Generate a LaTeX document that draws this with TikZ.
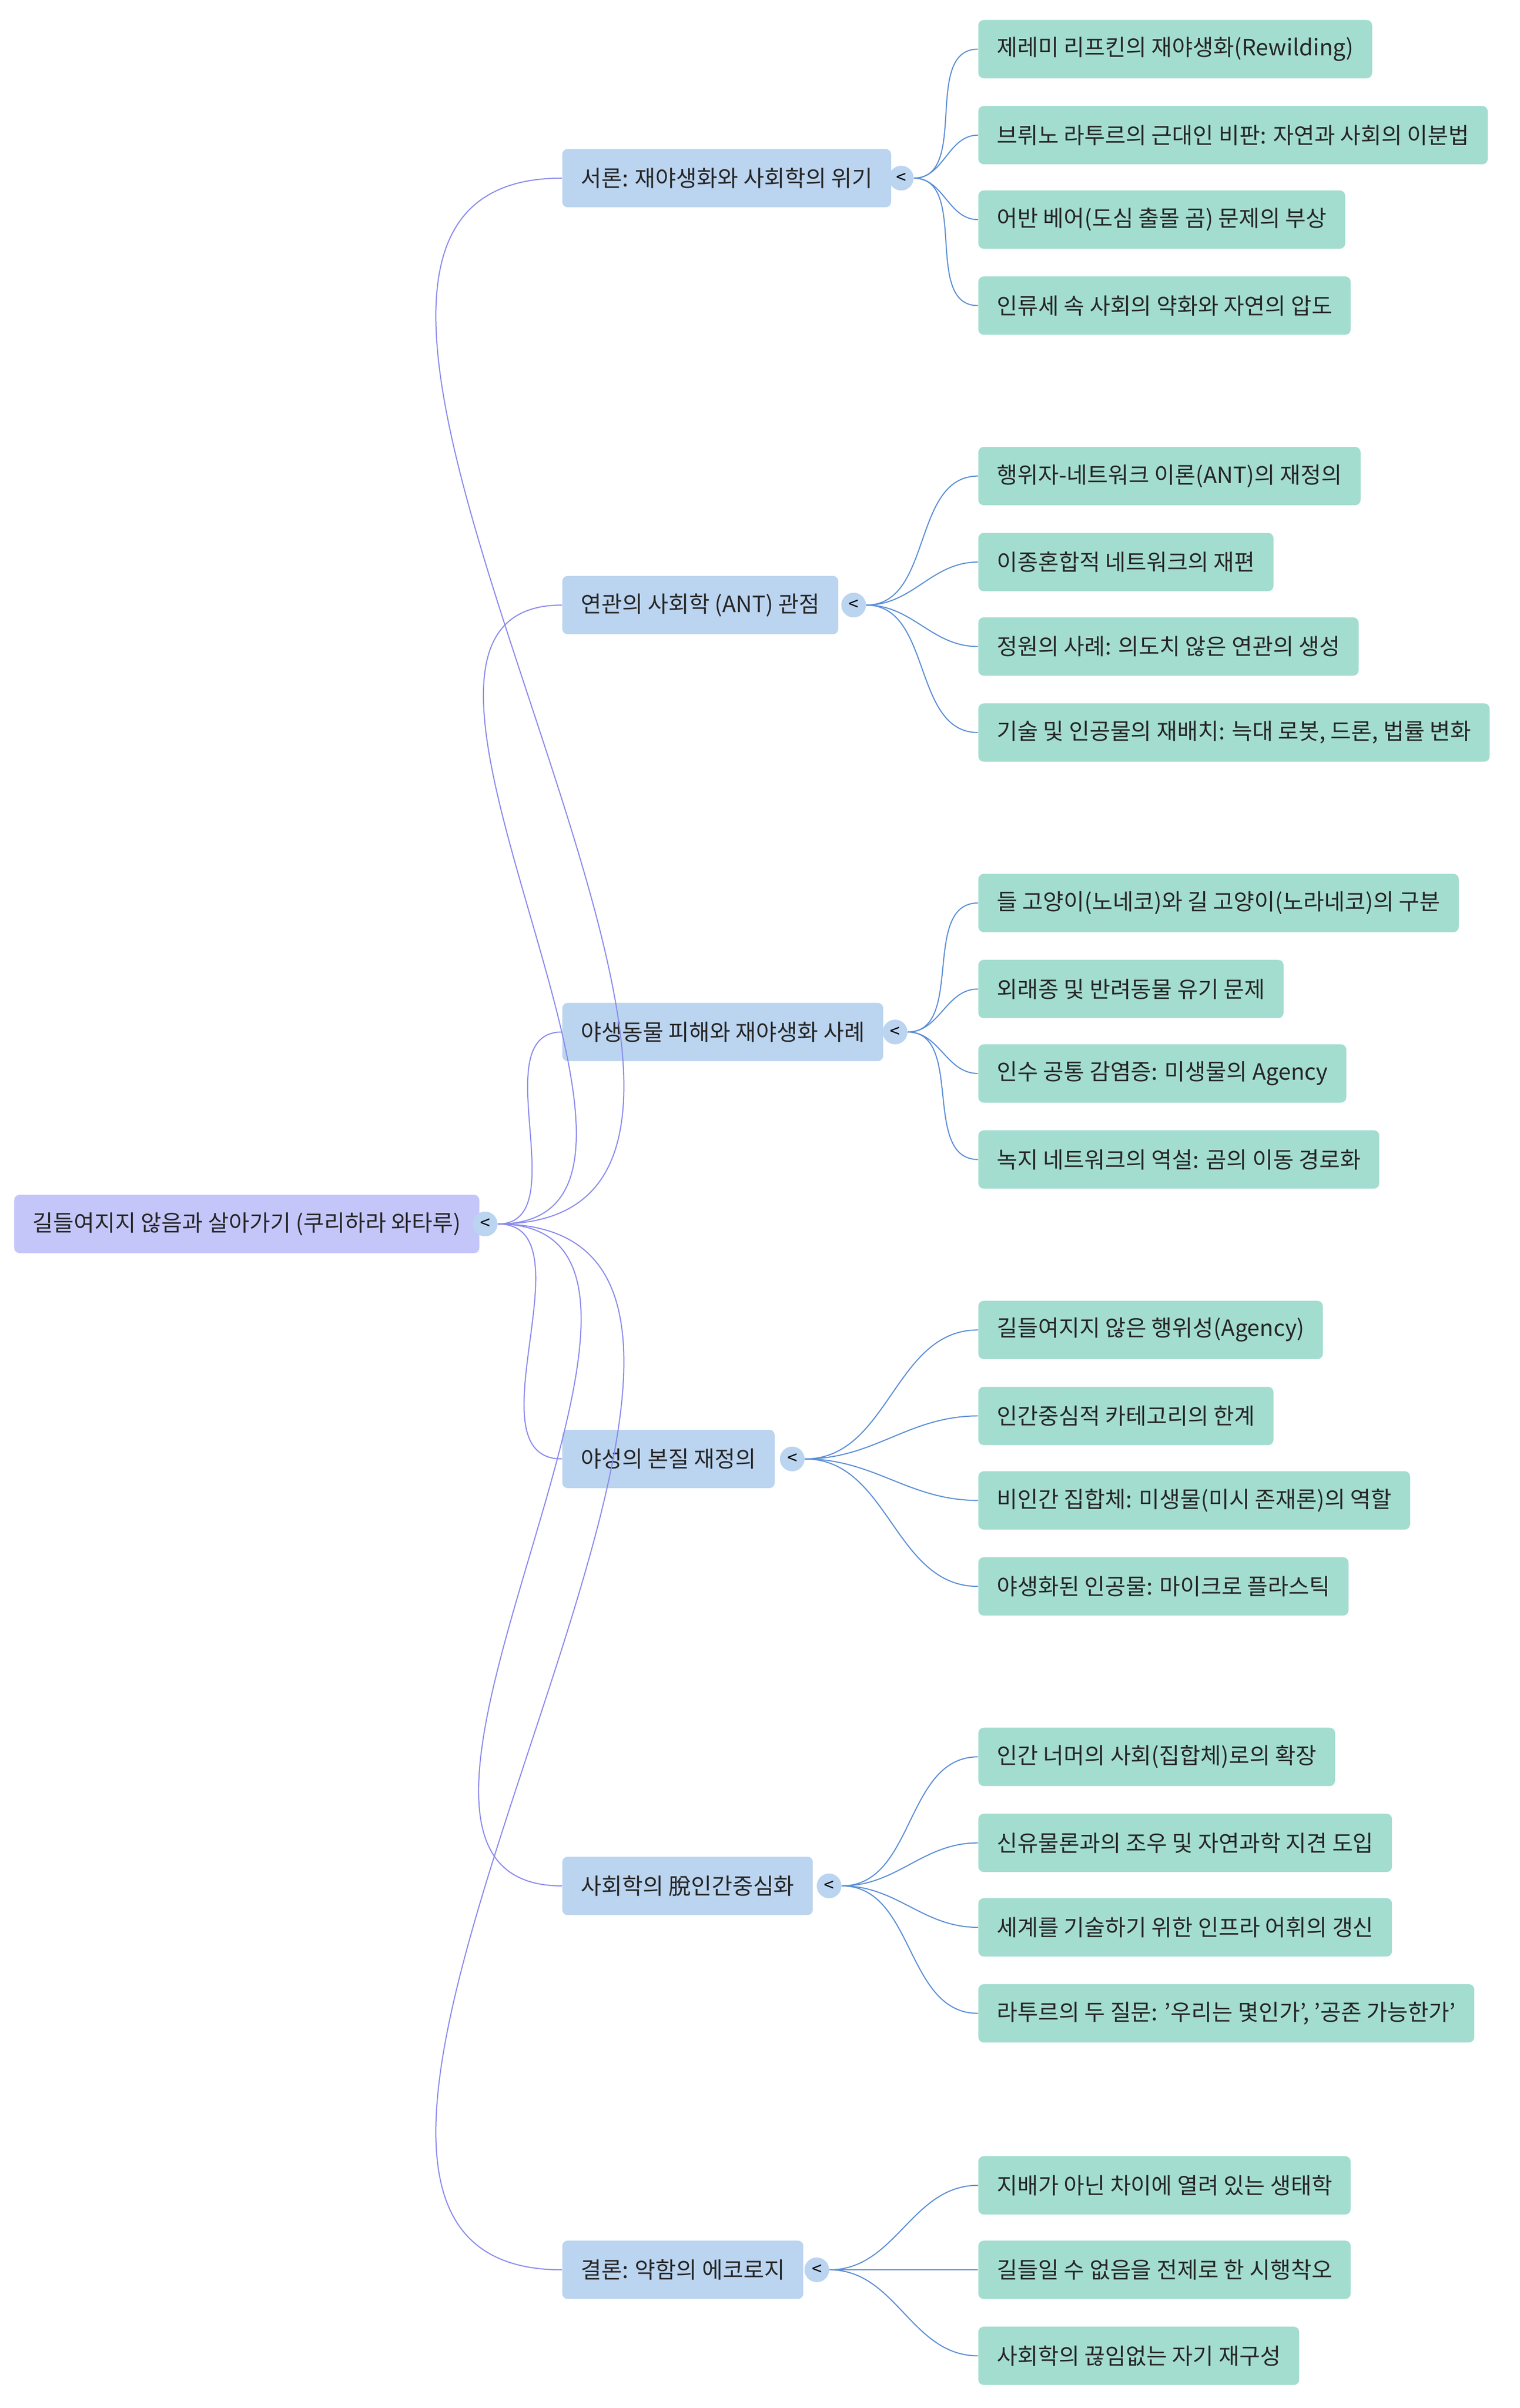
\documentclass[tikz,border=0pt]{standalone}
\usepackage{fontspec}
\setmainfont{Noto Sans CJK KR}
\usetikzlibrary{positioning}
\definecolor{rootfill}{HTML}{C4C6FA}
\definecolor{secfill}{HTML}{BBD4F0}
\definecolor{leaffill}{HTML}{A3DDCF}
\definecolor{rootedge}{HTML}{8A8AEE}
\definecolor{secedge}{HTML}{5A8ED6}
\tikzset{
  box/.style={anchor=west,rounded corners=3pt,minimum height=38*0.03cm,inner xsep=12*0.03cm,
              font=\fontsize{12.5}{15}\selectfont,text=black!85},
  root/.style={box,fill=rootfill},
  sec/.style={box,fill=secfill},
  leaf/.style={box,fill=leaffill},
  knob/.style={circle,fill=secfill,minimum size=16*0.03cm,inner sep=0pt,font=\fontsize{10}{10}\selectfont},
  link/.style={semithick,out=0,in=180}
}
\begin{document}
\begin{tikzpicture}[x=0.03cm,y=-0.03cm]
  \useasboundingbox (0,0) rectangle (990,1568);

  \node[root] (r) at (9,797) {길들여지지 않음과 살아가기 (쿠리하라 와타루)};
  \node[knob] (cr) at (316,797) {<};

  \node[sec] (s1) at (366,116)  {서론: 재야생화와 사회학의 위기};
  \node[sec] (s2) at (366,394)  {연관의 사회학 (ANT) 관점};
  \node[sec] (s3) at (366,672)  {야생동물 피해와 재야생화 사례};
  \node[sec] (s4) at (366,950)  {야성의 본질 재정의};
  \node[sec] (s5) at (366,1228) {사회학의 脫인간중심화};
  \node[sec] (s6) at (366,1478) {결론: 약함의 에코로지};

  \node[knob] (c1) at (587,116)  {<};
  \node[knob] (c2) at (556,394)  {<};
  \node[knob] (c3) at (583,672)  {<};
  \node[knob] (c4) at (516,950)  {<};
  \node[knob] (c5) at (540,1228) {<};
  \node[knob] (c6) at (532,1478) {<};

  % leaves
  \node[leaf] (l11) at (637,32)   {제레미 리프킨의 재야생화(Rewilding)};
  \node[leaf] (l12) at (637,88)   {브뤼노 라투르의 근대인 비판: 자연과 사회의 이분법};
  \node[leaf] (l13) at (637,143)  {어반 베어(도심 출몰 곰) 문제의 부상};
  \node[leaf] (l14) at (637,199)  {인류세 속 사회의 약화와 자연의 압도};

  \node[leaf] (l21) at (637,310)  {행위자-네트워크 이론(ANT)의 재정의};
  \node[leaf] (l22) at (637,366)  {이종혼합적 네트워크의 재편};
  \node[leaf] (l23) at (637,421)  {정원의 사례: 의도치 않은 연관의 생성};
  \node[leaf] (l24) at (637,477)  {기술 및 인공물의 재배치: 늑대 로봇, 드론, 법률 변화};

  \node[leaf] (l31) at (637,588)  {들 고양이(노네코)와 길 고양이(노라네코)의 구분};
  \node[leaf] (l32) at (637,644)  {외래종 및 반려동물 유기 문제};
  \node[leaf] (l33) at (637,699)  {인수 공통 감염증: 미생물의 Agency};
  \node[leaf] (l34) at (637,755)  {녹지 네트워크의 역설: 곰의 이동 경로화};

  \node[leaf] (l41) at (637,866)  {길들여지지 않은 행위성(Agency)};
  \node[leaf] (l42) at (637,922)  {인간중심적 카테고리의 한계};
  \node[leaf] (l43) at (637,977)  {비인간 집합체: 미생물(미시 존재론)의 역할};
  \node[leaf] (l44) at (637,1033) {야생화된 인공물: 마이크로 플라스틱};

  \node[leaf] (l51) at (637,1144) {인간 너머의 사회(집합체)로의 확장};
  \node[leaf] (l52) at (637,1200) {신유물론과의 조우 및 자연과학 지견 도입};
  \node[leaf] (l53) at (637,1255) {세계를 기술하기 위한 인프라 어휘의 갱신};
  \node[leaf] (l54) at (637,1311) {라투르의 두 질문: '우리는 몇인가', '공존 가능한가'};

  \node[leaf] (l61) at (637,1423) {지배가 아닌 차이에 열려 있는 생태학};
  \node[leaf] (l62) at (637,1478) {길들일 수 없음을 전제로 한 시행착오};
  \node[leaf] (l63) at (637,1534) {사회학의 끊임없는 자기 재구성};

  \begin{scope}[on background layer/.style={}]
  \foreach \s in {1,...,6}
    \draw[link,rootedge] (cr) to (s\s.west);
  \foreach \s/\n in {1/4,2/4,3/4,4/4,5/4,6/3}
    \foreach \l in {1,...,\n}
      \draw[link,secedge] (c\s) to (l\s\l.west);
  \end{scope}

  % knobs again on top of the links
  \node[knob] at (cr) {<};
  \foreach \s in {1,...,6}
    \node[knob] at (c\s) {<};
\end{tikzpicture}
\end{document}
